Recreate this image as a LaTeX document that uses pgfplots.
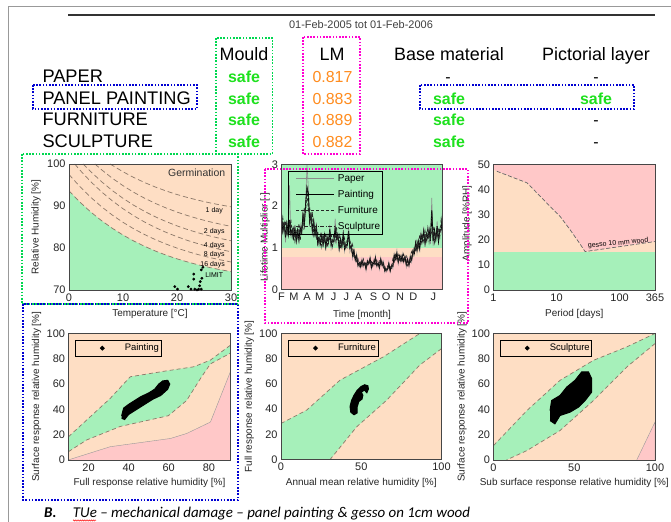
\documentclass[border=0pt]{standalone}
\usepackage{pgfplots}
\pgfplotsset{compat=1.18}
\usepackage{pgfplotstable}
\usepackage{fontspec}
\setmainfont{Liberation Sans}
\newfontfamily\capfont{Carlito}
\usetikzlibrary{decorations.pathmorphing}

\definecolor{peach}{RGB}{254,222,196}
\definecolor{mint}{RGB}{166,240,186}
\definecolor{rose}{RGB}{255,200,200}
\definecolor{safegreen}{RGB}{30,225,30}
\definecolor{lmorange}{RGB}{255,140,30}
\definecolor{boxgreen}{RGB}{0,215,80}
\definecolor{boxmag}{RGB}{255,0,210}
\definecolor{boxblue}{RGB}{0,0,210}
\definecolor{framec}{RGB}{70,70,70}
\definecolor{dashc}{RGB}{140,120,105}

\newcommand\hdr{\fontsize{18}{20}\selectfont}
\newcommand\rowf{\fontsize{18.3}{20}\selectfont}
\newcommand\valf{\fontsize{16}{18}\selectfont}

\pgfplotsset{
  panel/.style={
    scale only axis, anchor=north west,
    axis line style={framec, line width=0.8bp},
    major tick length=0pt,
    tick style={draw=none},
    tick label style={font=\fontsize{11}{12}\selectfont, text=black!85},
    x label style={font=\fontsize{10}{11}\selectfont, text=black!85},
    y label style={font=\fontsize{10}{11}\selectfont, text=black!85},
    /pgf/number format/assume math mode=true,
    axis on top,
  },
  dcurve/.style={draw=dashc, line width=0.7bp, dash pattern=on 5bp off 3bp, mark=none},
  bline/.style={draw=dashc, line width=0.7bp, dash pattern=on 4bp off 3bp, mark=none},
  dotleg/.style={
    legend style={draw=black, line width=0.6bp, fill=none, anchor=north west,
      font=\fontsize{9.5}{10}\selectfont, inner xsep=0pt, inner ysep=1.8bp},
    legend image code/.code={\path (0bp,-3bp) (46.5bp,3bp); \fill[black] (26.5bp,0) circle (1.8bp);},
  },
}

\pgfplotstableread{
t paper paint furn
0.0 1.91 1.79 1.44
0.1 1.30 1.40 1.71
0.2 1.62 1.58 1.40
0.3 1.13 1.25 1.64
0.4 1.66 1.58 1.28
0.5 1.27 1.32 1.48
0.6 2.50 1.67 1.38
0.7 1.24 1.34 1.68
0.8 1.47 1.44 1.27
0.9 1.18 1.24 1.46
1.0 1.55 1.46 1.17
1.1 1.09 1.17 1.43
1.2 1.46 1.42 1.26
1.3 1.09 1.20 1.58
1.4 1.54 1.47 1.19
1.5 1.31 1.36 1.54
1.6 1.92 1.78 1.47
1.7 1.44 1.56 1.96
1.8 2.10 2.06 1.82
1.9 3.00 2.45 2.43
2.0 2.44 2.30 1.85
2.1 1.51 1.62 1.98
2.2 1.84 1.79 1.58
2.3 1.28 1.42 1.86
2.4 1.72 1.64 1.32
2.5 1.27 1.32 1.48
2.6 1.61 1.50 1.24
2.7 1.03 1.11 1.40
2.8 1.26 1.24 1.09
2.9 1.05 1.10 1.30
3.0 1.37 1.29 1.04
3.1 1.01 1.08 1.32
3.2 1.35 1.31 1.16
3.3 0.93 1.03 1.36
3.4 1.32 1.25 1.01
3.5 1.08 1.13 1.27
3.6 1.55 1.44 1.19
3.7 0.99 1.07 1.34
3.8 1.21 1.18 1.05
3.9 1.09 1.15 1.35
4.0 1.70 1.46 1.17
4.1 1.13 1.22 1.49
4.2 1.35 1.31 1.16
4.3 0.89 0.99 1.30
4.4 1.26 1.20 0.97
4.5 0.99 1.03 1.17
4.6 1.43 1.32 1.09
4.7 0.91 0.98 1.23
4.8 1.10 1.08 0.96
4.9 1.00 1.06 1.24
5.0 1.49 1.40 1.13
5.1 0.92 0.99 1.21
5.2 1.08 1.05 0.93
5.3 0.74 0.82 1.07
5.4 0.97 0.93 0.75
5.5 0.68 0.71 0.80
5.6 0.87 0.81 0.67
5.7 0.54 0.58 0.73
5.8 0.65 0.64 0.56
5.9 0.52 0.55 0.65
6.0 0.74 0.69 0.56
6.1 0.55 0.59 0.72
6.2 0.65 0.63 0.56
6.3 0.45 0.50 0.66
6.4 0.71 0.68 0.55
6.5 0.60 0.62 0.70
6.6 0.79 0.74 0.61
6.7 0.49 0.53 0.67
6.8 0.65 0.64 0.56
6.9 0.58 0.61 0.71
7.0 0.81 0.76 0.61
7.1 0.54 0.58 0.70
7.2 0.65 0.63 0.56
7.3 0.48 0.53 0.70
7.4 0.76 0.72 0.58
7.5 0.56 0.58 0.66
7.6 0.68 0.63 0.52
7.7 0.41 0.45 0.56
7.8 0.50 0.49 0.44
7.9 0.45 0.48 0.56
8.0 0.66 0.62 0.50
8.1 0.42 0.45 0.55
8.2 0.59 0.58 0.51
8.3 0.50 0.56 0.73
8.4 0.86 0.82 0.66
8.5 0.71 0.73 0.83
8.6 0.94 0.87 0.72
8.7 0.61 0.66 0.83
8.8 0.82 0.80 0.71
8.9 0.65 0.69 0.81
9.0 0.86 0.81 0.65
9.1 0.64 0.68 0.84
9.2 0.80 0.78 0.69
9.3 0.54 0.60 0.79
9.4 0.76 0.72 0.58
9.5 0.56 0.58 0.66
9.6 0.84 0.78 0.65
9.7 0.66 0.71 0.90
9.8 0.94 0.93 0.82
9.9 0.83 0.87 1.03
10.0 1.19 1.12 0.90
10.1 0.88 0.95 1.16
10.2 1.19 1.16 1.02
10.3 0.89 0.99 1.30
10.4 1.37 1.31 1.06
10.5 1.13 1.18 1.33
10.6 1.51 1.40 1.16
10.7 1.03 1.11 1.40
10.8 1.36 1.34 1.18
10.9 1.18 1.24 1.46
11.0 1.53 1.43 1.15
11.1 1.09 1.17 1.43
11.2 2.20 1.90 1.35
11.3 1.05 1.16 1.53
11.4 1.49 1.42 1.14
11.5 1.16 1.20 1.36
11.6 1.64 1.52 1.25
11.7 1.07 1.16 1.46
11.8 1.47 1.44 1.27
11.9 1.35 1.43 1.67
12.0 1.91 1.79 1.44
}\lmdata

\begin{document}
\begin{tikzpicture}
\fill[white] (0,0) rectangle (671bp,522bp);
\path[use as bounding box] (0,0) rectangle (671bp,522bp);

% ---------------- Plot 1: mould germination
\begin{axis}[panel, at={(69bp,358bp)}, width=162bp, height=126bp,
  xmin=0, xmax=30, ymin=70, ymax=100,
  xtick={0,10,20,30}, ytick={70,80,90,100},
  xlabel={Temperature [°C]}, ylabel={Relative Humidity [\%]},
  x label style={at={(axis description cs:0.5,-0.19)}, anchor=center},
  y label style={at={(axis description cs:-0.204,0.5)}, anchor=center}]
\addplot[fill=peach, draw=none] coordinates {(0,70)(30,70)(30,100)(0,100)};
\addplot[fill=mint, draw=none] coordinates {(0,70)(0,93.6)(2,90.95)(4,88.6)(6,86.54)(8,84.71)(10,83.09)(12,81.66)(14,80.4)(16,79.28)(18,78.29)(20,77.42)(22,76.66)(24,75.97)(26,75.37)(28,74.84)(30,74.37)(30,70)};
\addplot[dcurve] coordinates {(0,93.6)(2,90.95)(4,88.6)(6,86.54)(8,84.71)(10,83.09)(12,81.66)(14,80.4)(16,79.28)(18,78.29)(20,77.42)(22,76.66)(24,75.97)(26,75.37)(28,74.84)(30,74.37)};
\addplot[dcurve] coordinates {(0,97.5)(2,94.63)(4,92.09)(6,89.85)(8,87.86)(10,86.11)(12,84.56)(14,83.2)(16,81.99)(18,80.92)(20,79.98)(22,79.14)(24,78.4)(26,77.75)(28,77.18)(30,76.67)};
\addplot[dcurve] coordinates {(1.06,100)(2,98.58)(4,95.83)(6,93.4)(8,91.25)(10,89.35)(12,87.66)(14,86.18)(16,84.87)(18,83.71)(20,82.69)(22,81.78)(24,80.98)(26,80.27)(28,79.65)(30,79.1)};
\addplot[dcurve] coordinates {(2.6,100)(4,98.22)(6,95.82)(8,93.7)(10,91.83)(12,90.17)(14,88.71)(16,87.42)(18,86.28)(20,85.27)(22,84.38)(24,83.59)(26,82.89)(28,82.28)(30,81.73)};
\addplot[dcurve] coordinates {(4.8,100)(6,98.66)(8,96.63)(10,94.84)(12,93.25)(14,91.85)(16,90.61)(18,89.52)(20,88.55)(22,87.7)(24,86.94)(26,86.27)(28,85.68)(30,85.16)};
\addplot[dcurve] coordinates {(7.6,100)(8,99.7)(10,98.15)(12,96.78)(14,95.58)(16,94.51)(18,93.57)(20,92.73)(22,92)(24,91.35)(26,90.77)(28,90.26)(30,89.81)};
\addplot[only marks, mark=*, mark size=1.2bp, black] coordinates {(19.6,70.8)(20.1,70.2)(22.1,70.8)(22.6,70.2)(23.1,73.8)(23.1,72.6)(23.7,70.0)(24.2,71.0)(24.3,72.0)(24.5,74.8)(24.6,72.8)(24.5,70.2)(24.0,70.2)(24.8,75.4)(23.3,70.2)};
\node[font=\fontsize{10.5}{11}\selectfont, text=black!80] at (axis cs:23.65,97.8) {Germination};
\node[font=\fontsize{7}{8}\selectfont] at (axis cs:26.9,88.8) {1 day};
\node[font=\fontsize{7}{8}\selectfont] at (axis cs:26.9,83.9) {2 days};
\node[font=\fontsize{7}{8}\selectfont] at (axis cs:26.9,80.5) {4 days};
\node[font=\fontsize{7}{8}\selectfont] at (axis cs:26.9,78.3) {8 days};
\node[font=\fontsize{7}{8}\selectfont] at (axis cs:26.6,75.95) {16 days};
\node[font=\fontsize{7}{8}\selectfont] at (axis cs:26.9,73.6) {LIMIT};
\end{axis}

% ---------------- Plot 2: lifetime multiplier
\begin{axis}[panel, at={(281.5bp,357.5bp)}, width=161bp, height=125bp,
  xmin=0, xmax=12, ymin=0, ymax=3, ytick={0,1,2,3},
  xtick={0,0.92,1.91,2.85,3.88,4.83,5.74,6.86,7.8,8.84,9.83,11.31},
  xticklabels={F,M,A,M,J,J,A,S,O,N,D,J},
  xlabel={Time [month]}, ylabel={Lifetime Multiplier [-]},
  x label style={at={(axis description cs:0.5,-0.2)}, anchor=center},
  y label style={at={(axis description cs:-0.102,0.42)}, anchor=center},
  legend style={at={(axis description cs:0.042,0.95)}, anchor=north west, draw=black,
    line width=0.6bp, fill=none, font=\fontsize{10}{11}\selectfont,
    inner xsep=0pt, inner ysep=1.5bp, row sep=3.3bp, cells={anchor=west}},
  legend image code/.code={\path (0bp,-3bp) (46.5bp,3bp); \draw[#1] (7bp,0) -- (45bp,0);}]
\addplot[fill=mint, draw=none, forget plot] coordinates {(0,0)(12,0)(12,3)(0,3)};
\addplot[fill=peach, draw=none, forget plot] coordinates {(0,0.78)(12,0.78)(12,1)(0,1)};
\addplot[fill=rose, draw=none, forget plot] coordinates {(0,0)(12,0)(12,0.78)(0,0.78)};
\addplot[black!45, line width=0.6bp, mark=none] table[x=t, y=paper] {\lmdata};
\addlegendentry{Paper}
\addplot[black, line width=0.9bp, mark=none] table[x=t, y=paint] {\lmdata};
\addlegendentry{Painting}
\addplot[black!85, line width=0.8bp, dash pattern=on 3bp off 2bp, mark=none] table[x=t, y=furn] {\lmdata};
\addlegendentry{Furniture}
\addplot[black!85, line width=0.6bp, dash pattern=on 4bp off 1.5bp on 1bp off 1.5bp, mark=none] table[x=t, y=paint] {\lmdata};
\addlegendentry{Sculpture\hspace{5bp}}
\end{axis}

% ---------------- Plot 3: amplitude vs period
\begin{axis}[panel, at={(493.5bp,357.5bp)}, width=161.5bp, height=125.5bp,
  xmode=log, xmin=1, xmax=365, ymin=0, ymax=50,
  xtick={1,10,100,365}, xticklabels={1,10,100,365}, ytick={0,10,20,30,40,50},
  xlabel={Period [days]}, ylabel={Amplitude [\%RH]},
  x label style={at={(axis description cs:0.5,-0.19)}, anchor=center},
  y label style={at={(axis description cs:-0.164,0.53)}, anchor=center}]
\addplot[fill=rose, draw=none] coordinates {(1,0)(365,0)(365,50)(1,50)};
\addplot[fill=peach, draw=none] coordinates {(1,15)(1,48)(1.13,47.3)(3.4,42.7)(7.9,33.3)(11.4,29.3)(16.4,24)(22.2,19.3)(28.4,15.3)(101.6,17.3)(365,19.3)(365,15)};
\addplot[fill=mint, draw=none] coordinates {(1,0)(365,0)(365,15)(1,15)};
\addplot[draw=black!60, line width=0.7bp, dash pattern=on 4bp off 2bp, mark=none] coordinates {(1.13,47.3)(3.4,42.7)(7.9,33.3)(11.4,29.3)(16.4,24)(22.2,19.3)(28.4,15.3)(101.6,17.3)(365,19.3)};
\node[font=\fontsize{7}{8}\selectfont, rotate=5] at (axis cs:95,18.6) {gesso 10 mm wood};
\end{axis}

% ---------------- Plot 4: painting
\begin{axis}[panel, dotleg, at={(68.5bp,188.5bp)}, width=162bp, height=126.5bp,
  xmin=10, xmax=90.8, ymin=0, ymax=100,
  xtick={20,40,60,80}, ytick={0,20,40,60,80,100},
  xlabel={Full response relative humidity [\%]}, ylabel={Surface response relative humidity [\%]},
  x label style={at={(axis description cs:0.5,-0.183)}, anchor=center},
  y label style={at={(axis description cs:-0.197,0.5)}, anchor=center},
  legend style={at={(axis description cs:0.04,0.949)}}]
\addplot[fill=peach, draw=none, forget plot] coordinates {(10,0)(90.8,0)(90.8,100)(10,100)};
\addplot[fill=rose, draw=black!40, line width=0.4bp, forget plot] coordinates {(10,0)(10.8,0.5)(30.8,10.5)(60.8,17)(69,21)(80.8,30)(90.8,70)(90.8,0)};
\addplot[fill=mint, draw=none, forget plot] coordinates {(10,18.4)(30.8,48.7)(40.8,65.8)(59,70.5)(72.5,73.7)(80.8,79)(90.8,90.8)(90.8,84.5)(80.8,76)(76.3,65.6)(68.9,47)(59.8,35)(35.8,26.5)(19,15.8)(10,6.6)};
\addplot[bline, forget plot] coordinates {(10,18.4)(30.8,48.7)(40.8,65.8)(59,70.5)(72.5,73.7)(80.8,79)(90.8,90.8)};
\addplot[bline, forget plot] coordinates {(10,6.6)(19,15.8)(35.8,26.5)(59.8,35)(68.9,47)(76.3,65.6)(80.8,76)(90.8,84.5)};
\addplot[fill=black, draw=black, line width=1bp] coordinates {(36.5,35)(37.5,41)(40,44)(43,47)(46,50)(50,53)(53,56)(55,60)(57,62.5)(59.5,63)(60.5,60)(59.5,56)(56,51)(52,48)(48,44)(44,40)(40,36)(38,32)(36.5,33)};
\addlegendentry{Painting\hspace{2bp}}
\end{axis}

% ---------------- Plot 5: furniture
\begin{axis}[panel, dotleg, at={(281bp,188.5bp)}, width=160.5bp, height=126bp,
  xmin=0, xmax=100, ymin=0, ymax=100,
  xtick={0,50,100}, ytick={0,20,40,60,80,100},
  xlabel={Annual mean relative humidity [\%]}, ylabel={Full response relative humidity [\%]},
  x label style={at={(axis description cs:0.5,-0.183)}, anchor=center},
  y label style={at={(axis description cs:-0.197,0.5)}, anchor=center},
  legend style={at={(axis description cs:0.045,0.949)}}]
\addplot[fill=peach, draw=none, forget plot] coordinates {(0,0)(100,0)(100,100)(0,100)};
\addplot[fill=mint, draw=none, forget plot] coordinates {(0,0)(0,28.6)(16,39.2)(36.8,63)(63.8,81.5)(86.5,100)(100,100)(100,88)(86.5,75)(65.8,47)(47.2,26)(30.6,0)};
\addplot[bline, forget plot] coordinates {(0,28.6)(16,39.2)(36.8,63)(63.8,81.5)(86.5,100)};
\addplot[bline, forget plot] coordinates {(100,88)(86.5,75)(65.8,47)(47.2,26)(30.6,0)};
\addplot[fill=black, draw=black, line width=1bp] coordinates {(52.5,59.5)(50,58)(47.5,55)(45.5,51)(44,47)(43,42)(43.5,37.5)(45.5,35.5)(47.5,37)(47.5,42)(48.5,46)(50.5,48)(51,51)(50,53.5)(52,55)(53.5,53)(54.5,56)(54,59)};
\addlegendentry{Furniture\hspace{7bp}}
\end{axis}

% ---------------- Plot 6: sculpture
\begin{axis}[panel, dotleg, at={(493.5bp,188.5bp)}, width=161.5bp, height=126.5bp,
  xmin=0, xmax=100, ymin=0, ymax=100,
  xtick={0,50,100}, ytick={0,20,40,60,80,100},
  xlabel={Sub surface response relative humidity [\%]}, ylabel={Surface response relative humidity [\%]},
  x label style={at={(axis description cs:0.5,-0.183)}, anchor=center},
  y label style={at={(axis description cs:-0.195,0.5)}, anchor=center},
  legend style={at={(axis description cs:0.04,0.949)}}]
\addplot[fill=peach, draw=none, forget plot] coordinates {(0,0)(100,0)(100,100)(0,100)};
\addplot[fill=mint, draw=none, forget plot] coordinates {(0,0)(0,11.4)(20.6,39)(41.2,63)(61.9,78.8)(82.5,89.4)(100,100)(100,92)(82.5,73.5)(61.9,47)(41.2,23.3)(20.6,7.4)(8,0)};
\addplot[fill=rose, draw=black!40, line width=0.4bp, forget plot] coordinates {(88.7,0)(100,30)(100,0)};
\addplot[bline, forget plot] coordinates {(0,11.4)(20.6,39)(41.2,63)(61.9,78.8)(82.5,89.4)(100,100)};
\addplot[bline, forget plot] coordinates {(100,92)(82.5,73.5)(61.9,47)(41.2,23.3)(20.6,7.4)(8,0)};
\addplot[fill=black, draw=black, line width=1bp] coordinates {(35,39)(36,47)(41.2,51)(45.4,57.7)(50.5,63)(54.6,69.6)(58.8,69.6)(60.8,64.3)(60.8,53.7)(56.7,47)(52.6,41.8)(47.4,37.8)(41.2,35.2)(38,28.6)(35,31.2)};
\addlegendentry{Sculpture\hspace{7bp}}
\end{axis}

% ---------------- header, frames, caption
\begin{scope}[x=1bp, y=-1bp, yshift=522bp]
\draw[black!40, line width=1bp] (8,522) -- (8,7) -- (671,7);
\draw[black!80, line width=1.2bp] (68,15) -- (655,15);
\node[font=\fontsize{11}{12}\selectfont, text=black!75] at (361,25) {01-Feb-2005 tot 01-Feb-2006};
\node[anchor=base, font=\hdr] at (244,60.5) {Mould};
\node[anchor=base, font=\hdr] at (332,60.5) {LM};
\node[anchor=base, font=\hdr] at (449,60.5) {Base material};
\node[anchor=base, font=\hdr] at (596,60.5) {Pictorial layer};
\node[anchor=base west, font=\rowf] at (39,82.5) {PAPER};
\node[anchor=base west, font=\rowf] at (39,104.2) {PANEL PAINTING};
\node[anchor=base west, font=\rowf] at (39,125.9) {FURNITURE};
\node[anchor=base west, font=\rowf] at (39,147.6) {SCULPTURE};
\foreach \yy in {82.5,104.2,125.9,147.6} {
  \node[anchor=base, font=\valf\bfseries, text=safegreen] at (244,\yy) {safe};
}
\node[anchor=base, font=\valf, text=lmorange] at (332.5,82.5) {0.817};
\node[anchor=base, font=\valf, text=lmorange] at (332.5,104.2) {0.883};
\node[anchor=base, font=\valf, text=lmorange] at (332.5,125.9) {0.889};
\node[anchor=base, font=\valf, text=lmorange] at (332.5,147.6) {0.882};
\node[anchor=base, font=\valf] at (448,82.5) {-};
\node[anchor=base, font=\valf\bfseries, text=safegreen] at (449,104.2) {safe};
\node[anchor=base, font=\valf\bfseries, text=safegreen] at (449,125.9) {safe};
\node[anchor=base, font=\valf\bfseries, text=safegreen] at (449,147.6) {safe};
\node[anchor=base, font=\valf] at (596,82.5) {-};
\node[anchor=base, font=\valf\bfseries, text=safegreen] at (596,104.2) {safe};
\node[anchor=base, font=\valf] at (596,125.9) {-};
\node[anchor=base, font=\valf] at (596,147.6) {-};
% dotted boxes
\tikzset{dotbox/.style={line width=1.6bp, dash pattern=on 1.6bp off 1.6bp}}
\draw[dotbox, boxgreen] (216,38) rectangle (272.5,154);
\draw[dotbox, boxmag] (303,37) rectangle (360,154);
\draw[dotbox, boxblue] (33,85) rectangle (197,109);
\draw[dotbox, boxblue] (420,85) rectangle (634,109);
\draw[dotbox, boxgreen] (22,154) rectangle (238,304);
\draw[dotbox, boxmag] (265,169) rectangle (468,323);
\draw[dotbox, boxblue] (23,304) rectangle (238,500);
% caption
\node[anchor=base west, font=\capfont\fontsize{15}{16}\selectfont\bfseries\itshape] at (40.6,517.5) {B.};
\node[anchor=base west, inner sep=0pt, font=\capfont\fontsize{15}{16}\selectfont\itshape] at (72.7,517.5) {TUe – mechanical damage – panel painting \& gesso on 1cm wood};
\draw[red!85, line width=0.5bp, decorate, decoration={zigzag, amplitude=0.6bp, segment length=1.8bp}] (73,520.5) -- (96,520.5);
\end{scope}
\end{tikzpicture}
\end{document}
